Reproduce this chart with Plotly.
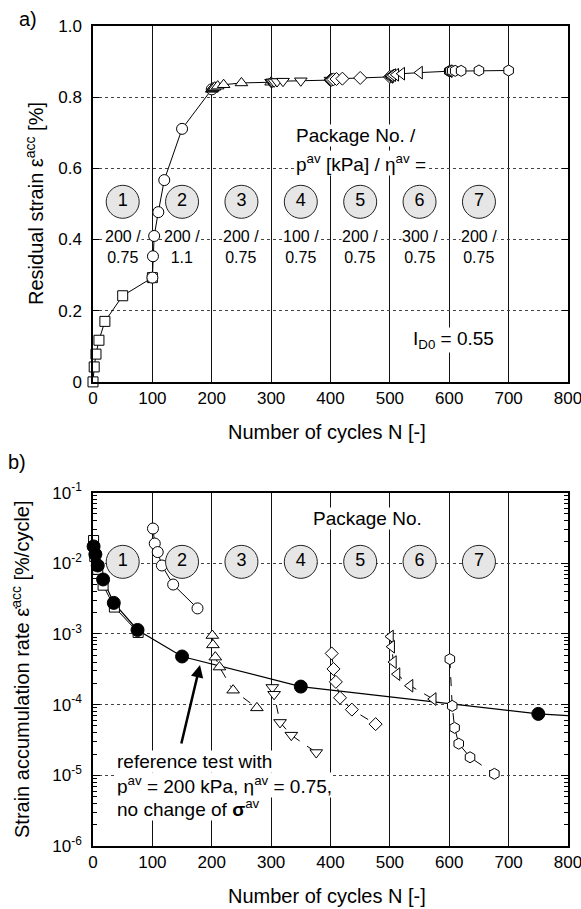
import plotly.graph_objects as go

# ---------------- data: panel a) residual strain ----------------
N_p1 = [0, 2, 5, 10, 20, 50, 100]
eps_p1 = [0.0, 0.042, 0.078, 0.117, 0.170, 0.242, 0.293]
N_p2 = [100, 101, 103, 110, 120, 150, 200]
eps_p2 = [0.293, 0.353, 0.410, 0.477, 0.567, 0.711, 0.822]
N_p3 = [200, 201, 202, 205, 210, 220, 250, 300]
eps_p3 = [0.822, 0.824, 0.826, 0.828, 0.831, 0.835, 0.840, 0.842]
N_p4 = [300, 301, 302, 305, 310, 320, 350, 400]
eps_p4 = [0.842, 0.842, 0.843, 0.843, 0.844, 0.845, 0.846, 0.848]
N_p5 = [400, 401, 402, 405, 410, 420, 450, 500]
eps_p5 = [0.848, 0.849, 0.849, 0.850, 0.851, 0.852, 0.854, 0.857]
N_p6 = [500, 501, 502, 505, 510, 520, 550, 600]
eps_p6 = [0.857, 0.859, 0.860, 0.862, 0.863, 0.866, 0.869, 0.873]
N_p7 = [600, 601, 602, 605, 610, 620, 650, 700]
eps_p7 = [0.873, 0.873, 0.874, 0.874, 0.874, 0.874, 0.875, 0.875]

# ---------------- data: panel b) strain accumulation rate ----------------
rN_p1 = [1, 3, 8, 17, 36, 76]
rate_p1 = [0.021, 0.0125, 0.0082, 0.0049, 0.0024, 0.00105]
rN_p2 = [101, 104, 109, 116, 135, 176]
rate_p2 = [0.031, 0.019, 0.0144, 0.0093, 0.0050, 0.0023]
rN_p3 = [201, 202, 206, 213, 236, 276]
rate_p3 = [9.5e-4, 7.0e-4, 4.7e-4, 3.4e-4, 1.6e-4, 9.0e-5]
rN_p4 = [302, 305, 315, 334, 376]
rate_p4 = [1.75e-4, 1.4e-4, 5.6e-5, 3.7e-5, 2.1e-5]
rN_p5 = [402, 405, 409, 416, 436, 476]
rate_p5 = [5.3e-4, 3.2e-4, 2.1e-4, 1.25e-4, 8.5e-5, 5.3e-5]
rN_p6 = [501, 503, 506, 512, 534, 573]
rate_p6 = [9.2e-4, 6.6e-4, 4.0e-4, 2.7e-4, 1.85e-4, 1.2e-4]
rN_p7 = [601, 605, 609, 616, 635, 676]
rate_p7 = [4.4e-4, 9.6e-5, 4.7e-5, 2.8e-5, 1.8e-5, 1.05e-5]
# reference test (no change of average stress)
ref_N = [1, 4, 8, 17, 35, 75, 150, 350, 750]
ref_rate = [0.0173, 0.0134, 0.0093, 0.0059, 0.00275, 0.00114, 4.8e-4, 1.8e-4, 7.4e-5]
ref_curve_N = ref_N + [800]
ref_curve_rate = ref_rate + [7.0e-5]

# ---------------- labels ----------------
pkg_numbers = ["1", "2", "3", "4", "5", "6", "7"]
pkg_center_N = [50, 150, 250, 350, 450, 550, 650]
pkg_p = ["200 /", "200 /", "200 /", "100 /", "200 /", "300 /", "200 /"]
pkg_eta = ["0.75", "1.1", "0.75", "0.75", "0.75", "0.75", "0.75"]
x_ticks = [0, 100, 200, 300, 400, 500, 600, 700, 800]
ya_ticks = [0, 0.2, 0.4, 0.6, 0.8, 1.0]
ya_ticktext = ["0", "0.2", "0.4", "0.6", "0.8", "1.0"]
yb_ticks = [1e-6, 1e-5, 1e-4, 1e-3, 1e-2, 1e-1]
yb_ticktext = ["10<sup>-6</sup>", "10<sup>-5</sup>", "10<sup>-4</sup>",
               "10<sup>-3</sup>", "10<sup>-2</sup>", "10<sup>-1</sup>"]
yb_minor = [k * 10.0 ** e for e in range(-6, -1) for k in range(2, 10)]

FONT = "Liberation Sans, Arial, Helvetica, sans-serif"
W, H = 581, 909
ML, MR, MT, MB = 93, 13, 26, 63
PW = W - ML - MR
PH = H - MT - MB


def px(x):
    return (x - ML) / PW


def py(y):
    return 1 - (y - MT) / PH


fig = go.Figure()


def add_pkg(x, y, symbol, size, xa, ya, dash="solid"):
    fig.add_trace(go.Scatter(
        x=x, y=y, mode="lines+markers", xaxis=xa, yaxis=ya,
        line=dict(color="black", width=1, dash=dash),
        marker=dict(symbol=symbol, size=size, color="white",
                    line=dict(color="black", width=1)),
        cliponaxis=False, showlegend=False, hoverinfo="skip"))


# panel a
add_pkg(N_p1, eps_p1, "square", 10, "x", "y")
add_pkg(N_p2, eps_p2, "circle", 11, "x", "y")
add_pkg(N_p3, eps_p3, "triangle-up", 11, "x", "y")
add_pkg(N_p4, eps_p4, "triangle-down", 11, "x", "y")
add_pkg(N_p5, eps_p5, "diamond", 10, "x", "y")
add_pkg(N_p6, eps_p6, "triangle-left", 11, "x", "y")
add_pkg(N_p7, eps_p7, "hexagon", 11, "x", "y")

# panel b
fig.add_trace(go.Scatter(
    x=ref_curve_N, y=ref_curve_rate, mode="lines", xaxis="x2", yaxis="y2",
    line=dict(color="black", width=1.2), showlegend=False, hoverinfo="skip",
    cliponaxis=True))
add_pkg(rN_p1, rate_p1, "square", 10, "x2", "y2")
add_pkg(rN_p2, rate_p2, "circle", 11, "x2", "y2")
add_pkg(rN_p3, rate_p3, "triangle-up", 11, "x2", "y2", dash="dash")
add_pkg(rN_p4, rate_p4, "triangle-down", 11, "x2", "y2", dash="dash")
add_pkg(rN_p5, rate_p5, "diamond", 10, "x2", "y2", dash="dash")
add_pkg(rN_p6, rate_p6, "triangle-left", 11, "x2", "y2", dash="dash")
add_pkg(rN_p7, rate_p7, "hexagon", 11, "x2", "y2", dash="dash")
fig.add_trace(go.Scatter(
    x=ref_N, y=ref_rate, mode="markers", xaxis="x2", yaxis="y2",
    marker=dict(symbol="circle", size=13, color="black",
                line=dict(color="black", width=1)),
    cliponaxis=False, showlegend=False, hoverinfo="skip"))

# circled package numbers
circ_style = dict(symbol="circle", size=33, color="#e6e6e6",
                  line=dict(color="#222", width=1))
fig.add_trace(go.Scatter(
    x=pkg_center_N, y=[0.506] * 7, mode="markers+text", text=pkg_numbers,
    textposition="middle center", textfont=dict(family=FONT, size=18, color="black"),
    marker=circ_style, xaxis="x", yaxis="y", showlegend=False, hoverinfo="skip"))
fig.add_trace(go.Scatter(
    x=pkg_center_N, y=[10 ** -1.98] * 7, mode="markers+text", text=pkg_numbers,
    textposition="middle center", textfont=dict(family=FONT, size=18, color="black"),
    marker=circ_style, xaxis="x2", yaxis="y2", showlegend=False, hoverinfo="skip"))

ann = []


def text(xp, yp, t, size=19, xanchor="center", bg="white", angle=0):
    ann.append(dict(x=px(xp), y=py(yp), xref="paper", yref="paper", text=t,
                    showarrow=False, xanchor=xanchor, yanchor="middle",
                    font=dict(family=FONT, size=size, color="black"),
                    bgcolor=bg, borderpad=0, textangle=angle))


# package parameter text (panel a)
for n, p, e in zip(pkg_center_N, pkg_p, pkg_eta):
    xp = ML + n / 800 * PW
    text(xp, 247, p + "<br>" + e, size=16)

text(295, 135, "Package No. /", xanchor="left")
text(295, 163, "p<sup>av</sup> [kPa] / η<sup>av</sup> =", xanchor="left")
text(453, 340, "I<sub>D0</sub> = 0.55")
text(367, 518, "Package No.")
text(116, 761, "reference test with", xanchor="left")
text(116, 785, "p<sup>av</sup> = 200 kPa, η<sup>av</sup> = 0.75,", xanchor="left")
text(116, 808, "no change of <b>σ</b><sup>av</sup>", xanchor="left")

text(28, 19, "a)", size=20, bg="rgba(0,0,0,0)")
text(17, 462, "b)", size=20, bg="rgba(0,0,0,0)")
text(327, 432, "Number of cycles N [-]", size=20, bg="rgba(0,0,0,0)")
text(327, 896, "Number of cycles N [-]", size=20, bg="rgba(0,0,0,0)")
text(35, 204, "Residual strain ε<sup>acc</sup> [%]", size=20, bg="rgba(0,0,0,0)", angle=-90)
text(20, 669, "Strain accumulation rate ε\u0307<sup>acc</sup> [%/cycle]", size=20,
     bg="rgba(0,0,0,0)", angle=-90)

# arrow to the reference curve
ann.append(dict(x=px(200), y=py(665), xref="paper", yref="paper", text="",
                showarrow=True, ax=-19, ay=80, arrowhead=2, arrowsize=1,
                arrowwidth=2.5, arrowcolor="black"))

xax = dict(range=[0, 800], tickvals=x_ticks, showgrid=True, gridcolor="#111",
           gridwidth=1, showline=True, linecolor="black", linewidth=1.5,
           mirror=True, ticks="", zeroline=False, ticklabeloverflow="allow",
           automargin=False,
           tickfont=dict(family=FONT, size=17, color="black"))

fig.update_layout(
    width=W, height=H, margin=dict(l=ML, r=MR, t=MT, b=MB, autoexpand=False),
    paper_bgcolor="white", plot_bgcolor="white", showlegend=False,
    font=dict(family=FONT, color="black"),
    xaxis=dict(domain=[0, 1], anchor="y", **xax),
    xaxis2=dict(domain=[0, 1], anchor="y2", **xax),
    yaxis=dict(domain=[0.566, 1], anchor="x", range=[0, 1.0], tickvals=ya_ticks,
               ticktext=ya_ticktext, ticks="inside", ticklen=6, tickcolor="black",
               showline=True, linecolor="black", linewidth=1.5, mirror="ticks",
               showgrid=True, gridcolor="#444", griddash="dot", gridwidth=1,
               zeroline=False, ticklabelstandoff=6, automargin=False,
               tickfont=dict(family=FONT, size=17, color="black")),
    yaxis2=dict(domain=[0, 0.431], anchor="x2", type="log", range=[-6, -1],
                tickvals=yb_ticks, ticktext=yb_ticktext, ticks="inside", ticklen=7,
                tickcolor="black",
                minor=dict(tickvals=yb_minor, ticks="inside", ticklen=4,
                           tickcolor="black", showgrid=False),
                showline=True, linecolor="black", linewidth=1.5, mirror="ticks",
                showgrid=True, gridcolor="#444", griddash="dot", gridwidth=1,
                zeroline=False, ticklabelstandoff=6, automargin=False,
                tickfont=dict(family=FONT, size=17, color="black")),
    annotations=ann,
)

fig.write_html("out.html")
